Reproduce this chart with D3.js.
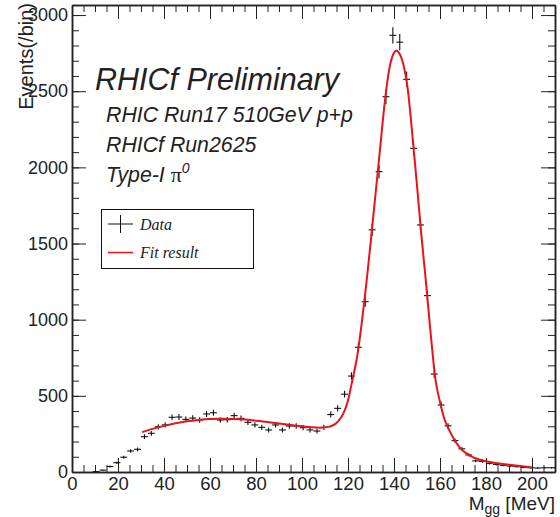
<!DOCTYPE html>
<html>
<head>
<meta charset="utf-8">
<script src="https://cdnjs.cloudflare.com/ajax/libs/d3/7.8.5/d3.min.js"></script>
<style>
  body { margin: 0; background: #fff; }
  svg { display: block; font-family: "Liberation Sans", Arial, sans-serif; }
  .axis path, .axis line { stroke: #222; }
  .axis text { fill: #222; }
</style>
</head>
<body>
<svg id="chart" width="560" height="517"></svg>
<script>
// histogram bin centres (MeV) and counts per bin
const mass = [10.5, 13.5, 16.5, 19.5, 22.5, 25.5, 28.5, 31.5, 34.5, 37.5,
  40.5, 43.5, 46.5, 49.5, 52.5, 55.5, 58.5, 61.5, 64.5, 67.5,
  70.5, 73.5, 76.5, 79.5, 82.5, 85.5, 88.5, 91.5, 94.5, 97.5,
  100.5, 103.5, 106.5, 109.5, 112.5, 115.5, 118.5, 121.5, 124.5, 127.5,
  130.5, 133.5, 136.5, 139.5, 142.5, 145.5, 148.5, 151.5, 154.5, 157.5,
  160.5, 163.5, 166.5, 169.5, 172.5, 175.5, 178.5, 181.5, 184.5, 187.5,
  190.5, 193.5, 196.5, 199.5, 202.5, 205.5, 208.5];
const events = [2, 12, 36, 61, 97, 138, 149, 232, 254, 297,
  309, 359, 361, 346, 354, 341, 381, 389, 341, 343,
  370, 352, 326, 309, 293, 276, 309, 276, 302, 302,
  291, 276, 269, 293, 377, 418, 511, 630, 819, 1118,
  1590, 1972, 2464, 2867, 2822, 2578, 2125, 1622, 1158, 643,
  440, 303, 206, 152, 112, 73, 69, 57, 50, 44,
  39, 35, 30, 28, 26, 28, 28];
const binWidth = 3;

// fit curve
const fitMass = [30.5, 35, 40, 45, 50, 55, 60, 65, 70, 75, 80, 85, 90, 95, 100, 104, 108,
  112, 114, 116, 118, 120, 122, 124, 126, 128, 130, 132, 134, 136, 138, 140, 141, 142,
  144, 146, 148, 150, 152, 154, 156, 158, 160, 162, 164, 166, 168, 170, 172, 174, 177,
  180, 185, 190, 195, 200];
const fitEvents = [262, 283, 303, 320, 333, 342, 348, 350, 348, 344, 337, 329, 319, 309, 300, 294, 291,
  298, 311, 338, 385, 470, 610, 760, 980, 1240, 1530, 1830, 2130, 2430, 2650, 2752, 2768, 2755,
  2680, 2510, 2210, 1880, 1540, 1230, 900, 610, 460, 345, 275, 218, 172, 140, 117, 99, 82,
  70, 57, 47, 39, 30];

const xMajor = [0, 20, 40, 60, 80, 100, 120, 140, 160, 180, 200];
const xMinor = d3.range(0, 211, 5);
const yMajor = [0, 500, 1000, 1500, 2000, 2500, 3000];
const yMinor = d3.range(0, 3001, 100);

const svg = d3.select("#chart");
const pLeft = 72, pRight = 555, pTop = 5, pBottom = 472;
const narrow = "'Liberation Sans Narrow', 'Liberation Sans', Arial, sans-serif";

const x = d3.scaleLinear().domain([0, 210]).range([pLeft, pRight]);
const y = d3.scaleLinear().domain([0, 3066]).range([pBottom, pTop]);

// axes, ROOT style: ticks pointing inward on all four sides
const addAxis = (axis, tx, ty, cls) =>
  svg.append("g").attr("class", "axis " + cls)
    .attr("transform", `translate(${tx},${ty})`)
    .call(axis)
    .attr("font-family", "Liberation Sans, Arial, sans-serif");

addAxis(d3.axisBottom(x).tickValues(xMinor).tickSize(-7).tickFormat("").tickSizeOuter(0), 0, pBottom, "minor");
addAxis(d3.axisTop(x).tickValues(xMinor).tickSize(-7).tickFormat("").tickSizeOuter(0), 0, pTop, "minor");
addAxis(d3.axisLeft(y).tickValues(yMinor).tickSize(-7).tickFormat("").tickSizeOuter(0), pLeft, 0, "minor");
addAxis(d3.axisRight(y).tickValues(yMinor).tickSize(-7).tickFormat("").tickSizeOuter(0), pRight, 0, "minor");

const xAx = addAxis(d3.axisBottom(x).tickValues(xMajor).tickSize(-14).tickPadding(5)
  .tickFormat(d3.format("d")).tickSizeOuter(0), 0, pBottom, "major");
addAxis(d3.axisTop(x).tickValues(xMajor).tickSize(-14).tickFormat("").tickSizeOuter(0), 0, pTop, "major");
const yAx = addAxis(d3.axisLeft(y).tickValues(yMajor).tickSize(-14).tickPadding(4)
  .tickFormat(d3.format("d")).tickSizeOuter(0), pLeft, 0, "major");
addAxis(d3.axisRight(y).tickValues(yMajor).tickSize(-14).tickFormat("").tickSizeOuter(0), pRight, 0, "major");

svg.selectAll(".axis line").attr("stroke-width", 1);
svg.selectAll(".axis path").attr("stroke-width", 1.5);
xAx.selectAll("text").attr("font-size", 18.5);
yAx.selectAll("text").attr("font-size", 18).attr("font-family", narrow);

// axis titles
svg.append("text")
  .attr("transform", `translate(32.5,3) rotate(-90)`)
  .attr("text-anchor", "end")
  .attr("font-size", 20)
  .attr("font-family", narrow)
  .attr("fill", "#222")
  .text("Events(/bin)");

const xt = svg.append("text")
  .attr("x", pRight).attr("y", 510)
  .attr("text-anchor", "end")
  .attr("font-size", 19)
  .attr("fill", "#222");
xt.append("tspan").text("M");
xt.append("tspan").attr("font-size", 14).attr("dy", 3.5).text("gg");
xt.append("tspan").attr("dy", -3.5).text(" [MeV]");

// data points with error bars
const data = mass.map((m, i) => ({ m, n: events[i] }));
const pts = svg.append("g").attr("stroke", "#111").attr("stroke-width", 1.1);
pts.selectAll("line.h").data(data).join("line").attr("class", "h")
  .attr("x1", d => x(d.m - binWidth / 2)).attr("x2", d => x(d.m + binWidth / 2))
  .attr("y1", d => y(d.n)).attr("y2", d => y(d.n));
pts.selectAll("line.v").data(data).join("line").attr("class", "v")
  .attr("x1", d => x(d.m)).attr("x2", d => x(d.m))
  .attr("y1", d => y(d.n + Math.sqrt(d.n))).attr("y2", d => y(Math.max(0, d.n - Math.sqrt(d.n))));

// fit result
const line = d3.line().x(d => x(d[0])).y(d => y(d[1])).curve(d3.curveMonotoneX);
svg.append("path")
  .datum(fitMass.map((m, i) => [m, fitEvents[i]]))
  .attr("fill", "none")
  .attr("stroke", "#e8141c")
  .attr("stroke-width", 2)
  .attr("d", line);

// labels
const txt = (tx, ty, size, s) => svg.append("text")
  .attr("x", tx).attr("y", ty)
  .attr("font-size", size).attr("font-style", "italic")
  .attr("fill", "#222").text(s);

txt(95, 90, 30.5, "RHICf Preliminary");
txt(106, 122, 21.3, "RHIC Run17 510GeV p+p");
txt(106, 152, 21.3, "RHICf Run2625");
const tp = txt(106, 182, 21.3, "Type-I ");
tp.append("tspan").attr("font-family", "'Liberation Serif', serif").attr("font-style", "normal").attr("font-size", 22).text("π");
tp.append("tspan").attr("font-size", 14).attr("dy", -9).text("0");

// legend
const lg = svg.append("g");
lg.append("rect").attr("x", 101.5).attr("y", 209.5).attr("width", 152).attr("height", 59)
  .attr("fill", "#fff").attr("stroke", "#111").attr("stroke-width", 1);
lg.append("line").attr("x1", 108).attr("x2", 133).attr("y1", 224).attr("y2", 224).attr("stroke", "#111");
lg.append("line").attr("x1", 120.5).attr("x2", 120.5).attr("y1", 215).attr("y2", 233).attr("stroke", "#111");
lg.append("line").attr("x1", 108).attr("x2", 133).attr("y1", 252.5).attr("y2", 252.5)
  .attr("stroke", "#e8141c").attr("stroke-width", 1.5);
lg.selectAll("text").data(["Data", "Fit result"]).join("text")
  .attr("x", 140).attr("y", (d, i) => 230 + i * 28)
  .attr("font-family", "'Liberation Serif', serif")
  .attr("font-style", "italic").attr("font-size", 16).attr("fill", "#222")
  .text(d => d);
</script>
</body>
</html>
